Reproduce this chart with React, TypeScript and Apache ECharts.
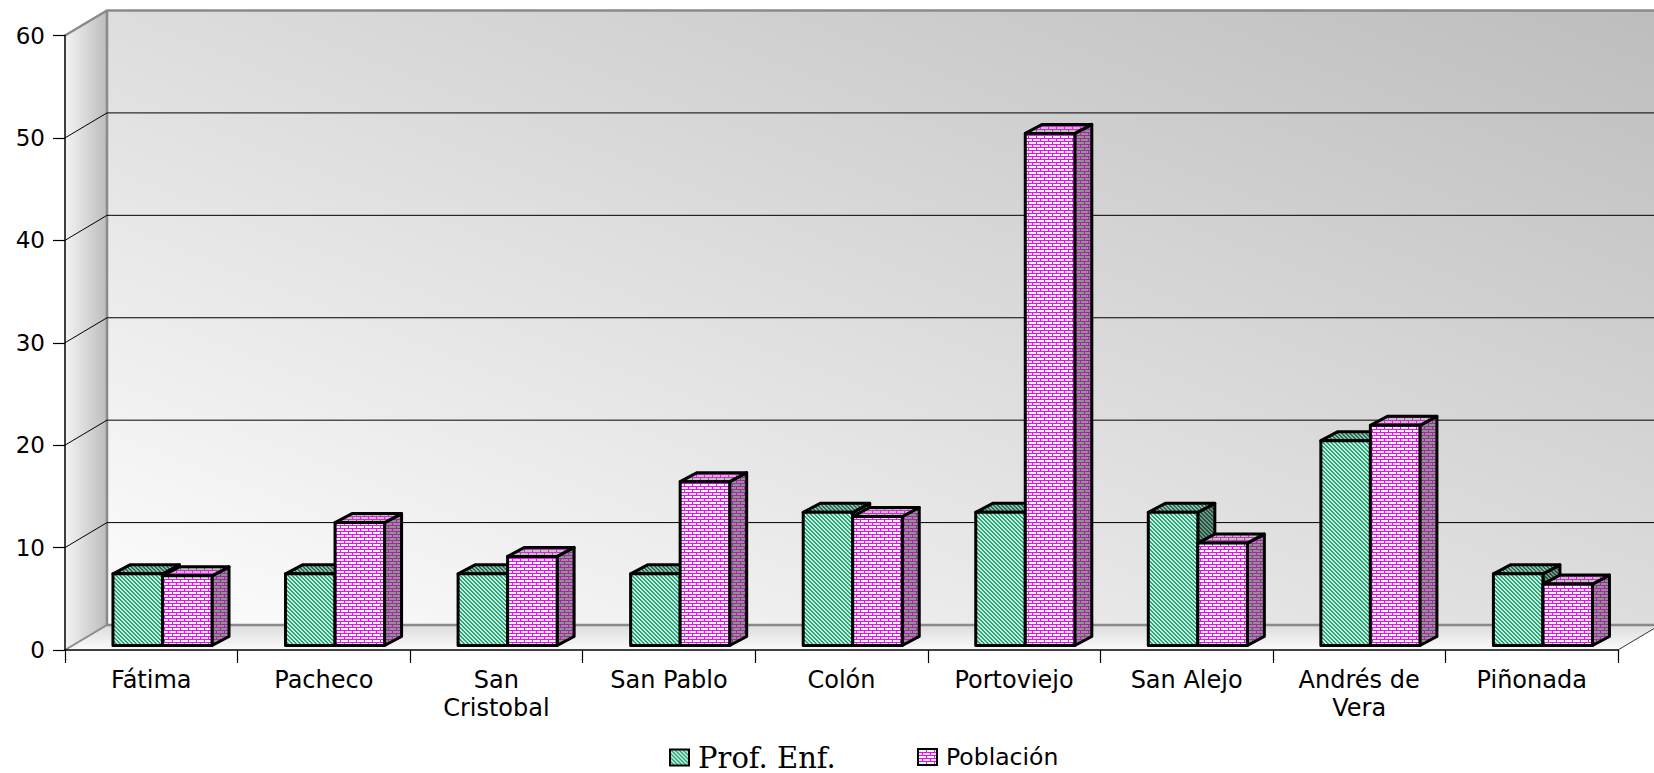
import React, { useEffect, useRef } from 'react';
import * as echarts from 'echarts';

const categories = ['Fátima', 'Pacheco', 'San\nCristobal', 'San Pablo', 'Colón', 'Portoviejo', 'San Alejo', 'Andrés de\nVera', 'Piñonada'];
const profEnf = [7, 7, 7, 7, 13, 13, 13, 20, 7];
const poblacion = [6.8, 12, 8.7, 16, 12.6, 50, 10, 21.5, 6];
const seriesNames = ['Prof. Enf.', 'Población'];
const yTicks = [0, 10, 20, 30, 40, 50, 60];

// 3D look (styles)
const DX = 42;
const DY = 25;
const BDX = 17;
const BDY = 9;
const BAR_FRAC = 0.287;
const OFF_FRAC = 0.065;
const LIFT = 4.5;
const EDGE = '#8a8a8a';

function stripePattern(dark: string, light: string) {
  const c = document.createElement('canvas');
  c.width = 4; c.height = 4;
  const ctx = c.getContext('2d')!;
  ctx.fillStyle = light; ctx.fillRect(0, 0, 4, 4);
  ctx.fillStyle = dark;
  for (let y = 0; y < 4; y++) for (let x = 0; x < 4; x++) {
    if ((((x - y) % 4) + 4) % 4 < 2) ctx.fillRect(x, y, 1, 1);
  }
  return { image: c, repeat: 'repeat' } as any;
}

function brickPattern(mortar: string, brick: string) {
  const c = document.createElement('canvas');
  c.width = 8; c.height = 6;
  const ctx = c.getContext('2d')!;
  ctx.fillStyle = brick; ctx.fillRect(0, 0, 8, 6);
  ctx.fillStyle = mortar;
  ctx.fillRect(0, 0, 8, 1);
  ctx.fillRect(0, 1, 1, 2);
  ctx.fillRect(0, 3, 8, 1);
  ctx.fillRect(4, 4, 1, 2);
  return { image: c, repeat: 'repeat' } as any;
}

export default function App() {
  const ref = useRef<HTMLDivElement>(null);
  useEffect(() => {
    if (!ref.current) return;
    const chart = echarts.init(ref.current, null, { renderer: 'svg' });

    const green = {
      front: stripePattern('#2fa27e', '#c4f2dd'),
      top: stripePattern('#2e6e58', '#8cbfac'),
      side: stripePattern('#24503f', '#6f9888'),
    };
    const pink = {
      front: brickPattern('#ff00ff', '#dcfbe6'),
      top: brickPattern('#e020e0', '#b8c8b8'),
      side: brickPattern('#b020b0', '#8a968a'),
    };

    const backGrad = new echarts.graphic.LinearGradient(0, 1, 1, 0, [
      { offset: 0, color: '#fdfdfd' },
      { offset: 1, color: '#bdbdbd' },
    ]);
    const leftGrad = new echarts.graphic.LinearGradient(0, 0, 1, 0, [
      { offset: 0, color: '#f4f4f4' },
      { offset: 1, color: '#bcbcbc' },
    ]);
    const floorGrad = new echarts.graphic.LinearGradient(0, 0, 0, 1, [
      { offset: 0, color: '#dcdcdc' },
      { offset: 1, color: '#fbfbfb' },
    ]);

    const wallsRender = (params: any) => {
      const cs = params.coordSys;
      const x0 = cs.x, x1 = cs.x + cs.width, yT = cs.y, yB = cs.y + cs.height;
      return {
        type: 'group',
        children: [
          { type: 'polygon', shape: { points: [[x0 + DX, yT - DY], [x1 + DX, yT - DY], [x1 + DX, yB - DY], [x0 + DX, yB - DY]] }, style: { fill: backGrad } },
          { type: 'polygon', shape: { points: [[x0, yT], [x0 + DX, yT - DY], [x0 + DX, yB - DY], [x0, yB]] }, style: { fill: leftGrad } },
          { type: 'polygon', shape: { points: [[x0, yB], [x0 + DX, yB - DY], [x1 + DX, yB - DY], [x1, yB]] }, style: { fill: floorGrad } },
          { type: 'polyline', shape: { points: [[x0, yT], [x0 + DX, yT - DY], [x1 + DX, yT - DY]] }, style: { fill: 'none', stroke: EDGE, lineWidth: 2.5 } },
          { type: 'polyline', shape: { points: [[x0 + DX, yT - DY], [x0 + DX, yB - DY], [x1 + DX, yB - DY]] }, style: { fill: 'none', stroke: EDGE, lineWidth: 2.5 } },
          { type: 'line', shape: { x1: x0, y1: yB, x2: x0 + DX, y2: yB - DY }, style: { stroke: EDGE, lineWidth: 2 } },
          { type: 'line', shape: { x1: x1, y1: yB, x2: x1 + DX, y2: yB - DY }, style: { stroke: '#333', lineWidth: 1 } },
        ],
      };
    };

    const gridRender = (params: any, api: any) => {
      const cs = params.coordSys;
      const y = api.coord([0, api.value(1)])[1];
      return {
        type: 'group',
        children: [
          { type: 'line', shape: { x1: cs.x, y1: y, x2: cs.x + DX, y2: y - DY }, style: { stroke: '#000', lineWidth: 1 } },
          { type: 'line', shape: { x1: cs.x + DX, y1: y - DY, x2: cs.x + cs.width + DX, y2: y - DY }, style: { stroke: '#000', lineWidth: 1 } },
        ],
      };
    };

    const makeBar = (s: number, faces: any) => (params: any, api: any) => {
      const i = api.value(0), v = api.value(1);
      const band = api.size([1, 0])[0];
      const base = api.coord([i, 0]);
      const top = api.coord([i, v]);
      const w = band * BAR_FRAC;
      const off = band * OFF_FRAC;
      const xl = base[0] + off - w + s * w;
      const xr = xl + w;
      const yb = base[1] - LIFT;
      const yt = top[1] - LIFT;
      const st = { stroke: '#000', lineWidth: 3, lineJoin: 'round' };
      return {
        type: 'group',
        children: [
          { type: 'polygon', shape: { points: [[xr, yt], [xr + BDX, yt - BDY], [xr + BDX, yb - BDY], [xr, yb]] }, style: { fill: faces.side, ...st } },
          { type: 'polygon', shape: { points: [[xl, yt], [xl + BDX, yt - BDY], [xr + BDX, yt - BDY], [xr, yt]] }, style: { fill: faces.top, ...st } },
          { type: 'rect', shape: { x: xl, y: yt, width: w, height: yb - yt }, style: { fill: faces.front, ...st } },
        ],
      };
    };

    const sansFont = 'DejaVu Sans';

    chart.setOption({
      animation: false,
      backgroundColor: '#ffffff',
      grid: { left: 65, top: 35.5, right: 36, bottom: 123, containLabel: false },
      xAxis: {
        type: 'category',
        data: categories,
        z: 10,
        axisLine: { lineStyle: { color: '#000', width: 1.5 } },
        axisTick: { show: true, length: 13, lineStyle: { color: '#000', width: 1.2 } },
        axisLabel: { color: '#000', fontFamily: sansFont, fontSize: 24, lineHeight: 28, margin: 16, interval: 0 },
        splitLine: { show: false },
      },
      yAxis: {
        type: 'value',
        min: 0,
        max: 60,
        interval: 10,
        z: 10,
        axisLine: { show: true, lineStyle: { color: '#000', width: 1.5 } },
        axisTick: { show: true, length: 12, lineStyle: { color: '#000', width: 1.2 } },
        axisLabel: { color: '#000', fontFamily: sansFont, fontSize: 23, margin: 20 },
        splitLine: { show: false },
      },
      legend: [
        {
          left: 664,
          top: 738,
          itemWidth: 19,
          itemHeight: 16,
          icon: 'rect',
          data: [{
            name: seriesNames[0],
            itemStyle: { color: green.front, borderColor: '#000', borderWidth: 2 },
            textStyle: { fontFamily: 'DejaVu Serif', fontSize: 29, color: '#000', padding: [0, 0, 0, 4] },
          }],
        },
        {
          left: 912,
          top: 740,
          itemWidth: 19,
          itemHeight: 16,
          icon: 'rect',
          data: [{
            name: seriesNames[1],
            itemStyle: { color: pink.front, borderColor: '#000', borderWidth: 2 },
            textStyle: { fontFamily: sansFont, fontSize: 23.5, color: '#000', padding: [0, 0, 0, 4] },
          }],
        },
      ],
      series: [
        {
          type: 'custom',
          silent: true,
          z: 1,
          renderItem: wallsRender,
          data: [[0, 0]],
        },
        {
          type: 'custom',
          silent: true,
          z: 2,
          renderItem: gridRender,
          data: yTicks.filter((v) => v > 0 && v < 60).map((v) => [0, v]),
        },
        {
          type: 'custom',
          name: seriesNames[0],
          z: 3,
          itemStyle: { color: '#3cb08c' },
          renderItem: makeBar(0, green),
          encode: { x: 0, y: 1 },
          data: profEnf.map((v, i) => [i, v]),
        },
        {
          type: 'custom',
          name: seriesNames[1],
          z: 4,
          itemStyle: { color: '#ff80ff' },
          renderItem: makeBar(1, pink),
          encode: { x: 0, y: 1 },
          data: poblacion.map((v, i) => [i, v]),
        },
      ],
    });
    return () => chart.dispose();
  }, []);
  return <div ref={ref} style={{ position: 'absolute', left: 0, top: 0, width: 1654, height: 773 }} />;
}
